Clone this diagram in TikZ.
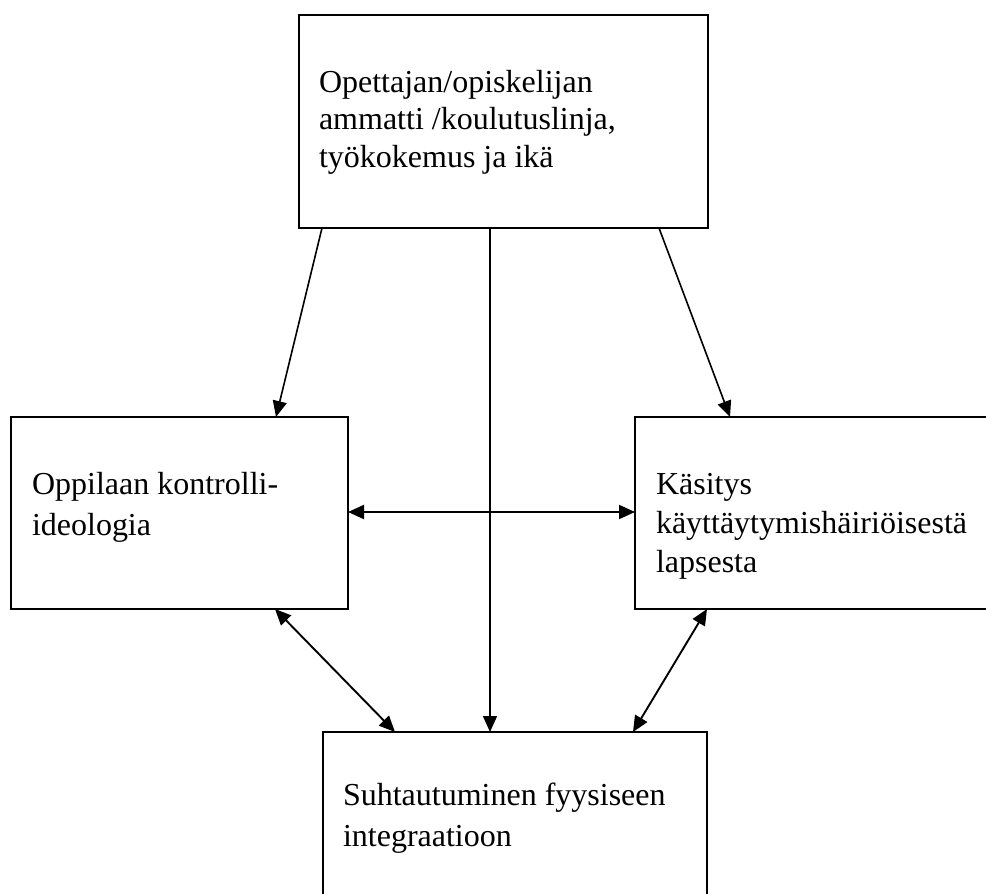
\documentclass[tikz,border=0pt]{standalone}
\usepackage{fontspec}
\setmainfont{Liberation Serif}
\usetikzlibrary{arrows.meta}
\begin{document}
\begin{tikzpicture}[x=1pt,y=-1pt,
  box/.style={draw, line width=1.8pt, inner sep=0pt, outer sep=0pt},
  txt/.style={inner sep=0pt, outer sep=0pt, align=left, anchor=base west},
  conn/.style={line width=1.6pt, -{Triangle[length=16pt,width=14pt]}},
  dconn/.style={line width=1.9pt, {Triangle[length=16pt,width=14pt]}-{Triangle[length=16pt,width=14pt]}}]
\useasboundingbox (0,0) rectangle (986,894);
\clip (0,0) rectangle (986,894);
% boxes
\node[box, minimum width=409pt, minimum height=213pt] (top) at (503.5,121.5) {};
\node[box, minimum width=337pt, minimum height=192pt] (left) at (179.5,513) {};
\node[box, minimum width=375pt, minimum height=192pt] (right) at (822.5,513) {};
\node[box, minimum width=384pt, minimum height=200pt] (bottom) at (515,832) {};
% texts (anchored at the baseline of their last line)
\node[txt, font=\fontsize{32}{37.5}\selectfont] (ttop) at (319,167)
  {Opettajan/opiskelijan\\ammatti /koulutuslinja,\\työkokemus ja ikä};
\node[txt, font=\fontsize{32}{41.7}\selectfont] (tleft) at (32,535.7)
  {Oppilaan kontrolli-\\ideologia};
\node[txt, font=\fontsize{32}{39}\selectfont] (tright) at (656,572)
  {Käsitys\\käyttäytymishäiriöisestä\\lapsesta};
\node[txt, font=\fontsize{32}{41.7}\selectfont] (tbottom) at (343,846.7)
  {Suhtautuminen fyysiseen\\integraatioon};
% connectors
\draw[conn] ([xshift=23pt]top.south west) -- ([xshift=265pt]left.north west);
\draw[conn] ([xshift=191pt]top.south west) -- ([xshift=167pt]bottom.north west);
\draw[conn] ([xshift=360pt]top.south west) -- ([xshift=95pt]right.north west);
\draw[dconn] ([yshift=1pt]left.east) -- ([yshift=1pt]right.west);
\draw[dconn] ([xshift=264pt]left.south west) -- ([xshift=72pt]bottom.north west);
\draw[dconn] ([xshift=72pt]right.south west) -- ([xshift=310pt]bottom.north west);
\end{tikzpicture}
\end{document}
